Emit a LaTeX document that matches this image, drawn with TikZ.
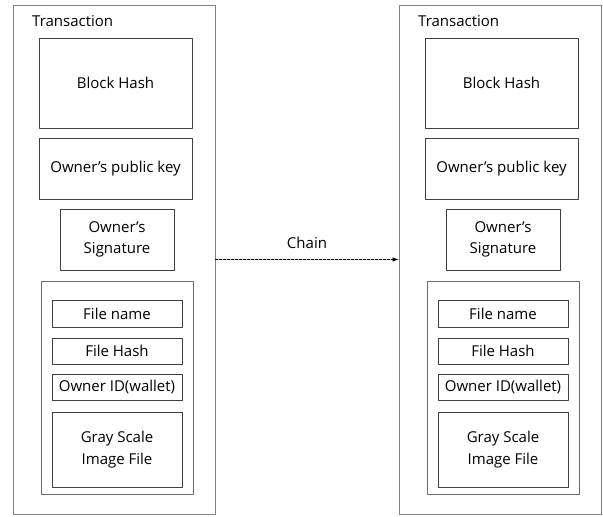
\documentclass[tikz,border=0pt]{standalone}
\usepackage{fontspec}
\setmainfont{Open Sans}
\tikzset{
  txbox/.style={draw=gray, line width=1pt, minimum width=202pt, minimum height=509pt, inner sep=0pt},
  groupbox/.style={draw=gray!85!black, line width=1pt, minimum width=152pt, minimum height=213pt, inner sep=0pt},
  field/.style={draw=black!75, line width=1pt, inner sep=0pt, align=center},
}
\begin{document}
\begin{tikzpicture}[x=1pt,y=-1pt,>=latex,line cap=round,line join=round,font=\fontsize{15}{21.5}\selectfont]
	\useasboundingbox (0,0) rectangle (603,517);
	% two transaction blocks side by side
	\foreach \dx/\t in {0/a,386/b}{
		\begin{scope}[xshift=\dx pt]
			\node[txbox] (tx\t) at (114,259.5) {};
			\node[anchor=west,inner sep=0pt] (title\t) at (32,21) {Transaction};
			\node[field,minimum width=153pt,minimum height=90pt] (bh\t) at (115.5,83) {Block Hash};
			\node[field,minimum width=153pt,minimum height=61pt] (pk\t) at (115.5,168.5) {Owner's public key};
			\node[field,minimum width=114pt,minimum height=61pt] (sig\t) at (117,239.5) {Owner's\\Signature};
			% file data
			\node[groupbox] (file\t) at (117,387.5) {};
			\node[field,minimum width=130pt,minimum height=27pt] (fn\t) at (117,313.5) {File name};
			\node[field,minimum width=130pt,minimum height=26pt] (fh\t) at (117,351) {File Hash};
			\node[field,minimum width=130pt,minimum height=26pt] (id\t) at (117,387) {Owner ID(wallet)};
			\node[field,minimum width=130pt,minimum height=75pt] (img\t) at (117,449.5) {Gray Scale\\Image File};
		\end{scope}
	}
	\draw[->,dashed,dash pattern=on 2.5pt off 1.5pt,line width=1pt] (txa.east) -- node[above=10pt,inner sep=0pt] (chain) {Chain} (txb.west);
\end{tikzpicture}
\end{document}
